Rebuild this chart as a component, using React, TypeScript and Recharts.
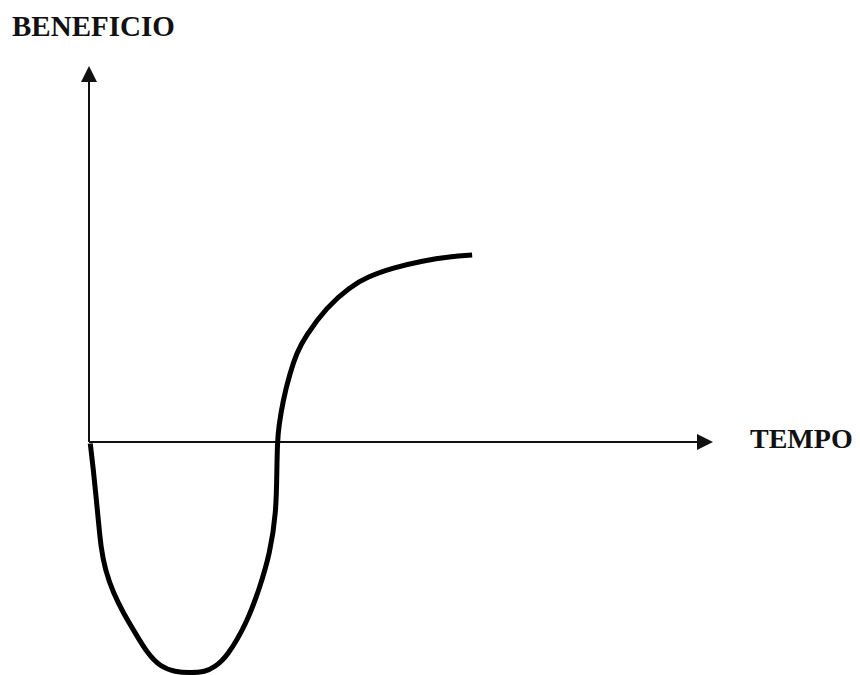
import { Line, LineChart, ReferenceLine, XAxis, YAxis } from 'recharts'

// curve (abstract units: time 0..100, profit -62..100)
const tempo = [0.2, 0.2, 0.7, 1.1, 1.5, 1.9, 2.6, 3.9, 5.5, 7.4, 9.3, 11.4, 13.8, 16.2, 18.6, 20.2, 22.1, 25.3, 27.4, 29.0, 30.0, 30.1, 30.2, 30.4, 31.1, 32.2, 33.3, 34.6, 38.1, 41.8, 44.6, 48.7, 53.5, 57.9, 61.4, 61.4]
const beneficio = [-0.4, -0.4, -7.4, -14.1, -20.8, -28.0, -34.1, -40.2, -45.5, -50.8, -56.1, -59.8, -61.2, -61.4, -61.2, -59.8, -57.2, -48.2, -38.6, -29.6, -18.9, -7.5, 0, 4.0, 11.1, 18.3, 23.7, 27.9, 35.9, 41.2, 43.9, 46.3, 48.2, 49.3, 49.7, 49.7]

const xLabel = 'TEMPO'
const yLabel = 'BENEFICIO'

const data = tempo.map((t, i) => ({ tempo: t, beneficio: beneficio[i] }))

const font = '"Liberation Serif", "Times New Roman", serif'
const ink = '#111'

function ArrowX(props: any) {
  const { x1, x2, y1 } = props
  const left = Math.min(x1, x2)
  const tip = Math.max(x1, x2)
  return (
    <g>
      <line x1={left} y1={y1} x2={tip - 14} y2={y1} stroke={ink} strokeWidth={2} />
      <polygon points={`${tip},${y1} ${tip - 16},${y1 - 8} ${tip - 16},${y1 + 8}`} fill={ink} />
      <text x={tip + 37} y={y1 + 6} fontFamily={font} fontWeight="bold" fontSize={28} fill={ink}>
        {xLabel}
      </text>
    </g>
  )
}

function ArrowY(props: any) {
  const { x1, y1, y2 } = props
  const bottom = Math.max(y1, y2)
  const tip = Math.min(y1, y2)
  return (
    <g>
      <line x1={x1} y1={bottom} x2={x1} y2={tip + 14} stroke={ink} strokeWidth={2} />
      <polygon points={`${x1},${tip} ${x1 - 8},${tip + 16} ${x1 + 8},${tip + 16}`} fill={ink} />
      <text x={x1 - 77} y={tip - 30} fontFamily={font} fontWeight="bold" fontSize={29} fill={ink}>
        {yLabel}
      </text>
    </g>
  )
}

export default function App() {
  return (
    <div style={{ position: 'fixed', left: 0, top: 0, width: 860, height: 675, background: '#fff' }}>
      <LineChart width={860} height={675} data={data} margin={{ top: 66, right: 147, left: 89, bottom: 0 }}>
        <XAxis dataKey="tempo" type="number" domain={[0, 100]} hide />
        <YAxis type="number" domain={[-62, 100]} hide />
        <ReferenceLine segment={[{ x: 0, y: 0 }, { x: 100, y: 0 }]} shape={ArrowX} />
        <ReferenceLine segment={[{ x: 0, y: 0 }, { x: 0, y: 100 }]} shape={ArrowY} />
        <Line
          type="basis"
          dataKey="beneficio"
          stroke="#000"
          strokeWidth={5}
          dot={false}
          activeDot={false}
          isAnimationActive={false}
        />
      </LineChart>
    </div>
  )
}
